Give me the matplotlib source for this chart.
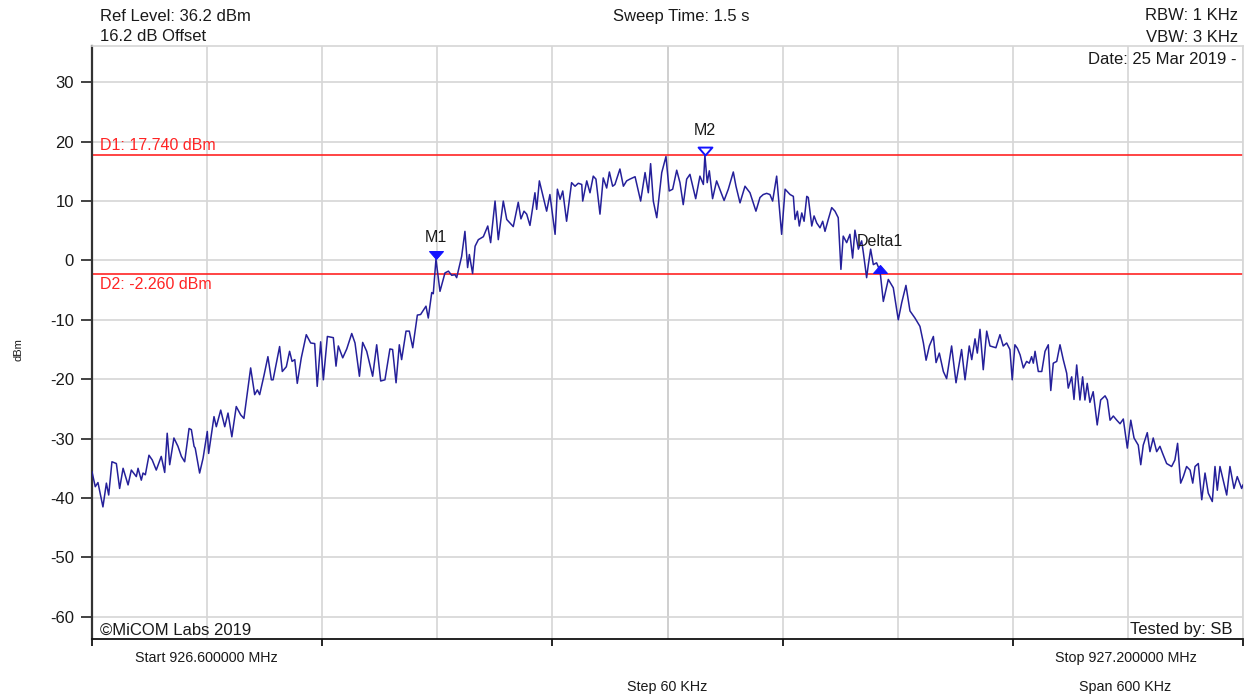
import numpy as np
import matplotlib.pyplot as plt
from matplotlib.path import Path

plt.rcParams['font.family'] = ['Liberation Sans', 'DejaVu Sans']
plt.rcParams['axes.unicode_minus'] = False

# sweep settings
start_mhz = 926.6
stop_mhz = 927.2
span_khz = 600
ref_level = 36.2
y_bottom = ref_level - 100

# display lines
d1_level = 17.740
d2_level = -2.260

# trace: frequency offset from start (kHz) and level (dBm)
freq_khz = [
    0.0, 1.7, 3.1, 5.7, 7.5, 8.7, 10.4, 12.7, 14.4, 16.2, 18.8, 20.5, 23.1, 24.0,
    25.7, 26.6, 27.8, 29.7, 31.4, 33.5, 36.1, 37.9, 39.2, 40.5, 42.7, 44.8, 46.6,
    48.3, 50.6, 51.8, 53.2, 53.8, 56.1, 57.9, 60.1, 60.8, 63.6, 64.8, 67.1, 69.2,
    70.9, 72.9, 75.2, 77.5, 79.2, 82.7, 84.8, 86.2, 87.4, 89.7, 91.7, 93.5, 94.4,
    97.8, 99.2, 101.3, 103.0, 104.3, 105.7, 107.0, 109.1, 111.7, 114.0, 116.1,
    117.4, 119.2, 120.6, 122.7, 125.8, 127.2, 128.4, 130.7, 132.8, 135.4, 137.1,
    139.4, 141.1, 143.2, 146.3, 148.4, 150.5, 152.7, 155.3, 156.7, 158.5, 160.2,
    161.4, 163.7, 165.4, 167.2, 169.6, 171.3, 174.1, 175.3, 177.1, 177.9, 179.3,
    181.4, 184.0, 185.8, 187.5, 189.2, 190.1, 192.7, 194.4, 195.8, 196.7, 198.4,
    199.7, 201.4, 204.0, 206.3, 207.8, 210.1, 211.8, 214.4, 216.2, 217.9, 219.6,
    222.2, 223.6, 225.2, 226.6, 228.3, 230.9, 231.8, 233.2, 234.9, 237.0, 238.7,
    241.4, 242.6, 244.0, 245.4, 247.4, 250.0, 251.8, 253.5, 255.3, 255.8, 257.9,
    259.6, 261.3, 262.7, 264.8, 266.5, 268.3, 269.7, 271.4, 272.6, 275.2, 277.0,
    278.7, 280.4, 283.1, 286.0, 288.3, 290.0, 291.2, 292.6, 294.4, 297.0, 299.2,
    300.9, 302.7, 304.8, 306.5, 308.2, 310.0, 311.7, 314.7, 316.9, 318.7, 319.5,
    320.7, 321.8, 323.5, 325.6, 327.0, 329.5, 331.7, 334.3, 335.7, 337.8, 340.4,
    343.0, 346.1, 348.2, 349.9, 351.7, 353.4, 354.8, 356.9, 359.5, 361.3, 363.9,
    365.6, 366.5, 367.7, 368.7, 370.0, 371.2, 372.6, 373.4, 375.2, 376.4, 377.8,
    379.5, 380.9, 382.1, 383.8, 385.6, 387.3, 389.0, 390.4, 391.6, 393.4, 395.1,
    396.5, 397.7, 399.5, 401.2, 402.1, 403.8, 404.7, 405.9, 407.3, 409.0, 410.8,
    412.5, 415.1, 417.7, 420.3, 422.1, 424.3, 426.4, 429.0, 431.6, 433.4, 434.8,
    436.5, 438.6, 440.0, 441.7, 443.8, 445.5, 448.1, 450.4, 453.3, 455.1, 457.3,
    458.6, 460.3, 461.5, 462.9, 464.6, 466.4, 468.1, 471.2, 473.3, 475.0, 476.8,
    478.5, 479.7, 481.1, 482.4, 483.8, 485.5, 487.2, 488.6, 489.8, 490.7, 491.6,
    493.3, 495.1, 496.8, 498.5, 499.8, 501.1, 502.9, 504.6, 506.3, 508.1, 508.9,
    510.7, 511.9, 513.3, 515.0, 516.4, 517.6, 518.8, 520.2, 521.9, 524.0, 525.8,
    528.1, 529.3, 530.7, 532.4, 534.2, 535.9, 537.6, 539.7, 541.5, 543.2, 545.4,
    546.7, 548.0, 550.1, 551.5, 553.2, 555.0, 556.7, 558.1, 560.2, 562.8, 564.5,
    565.9, 567.5, 568.9, 570.6, 572.4, 573.8, 575.0, 576.7, 578.5, 580.2, 581.9,
    584.0, 585.4, 586.6, 588.0, 589.7, 591.5, 593.2, 595.3, 597.0, 599.3, 600.0,
]
level_dbm = [
    -35.6, -38.1, -37.4, -41.5, -37.5, -39.5, -33.9, -34.2, -38.4, -35.0, -37.8,
    -35.3, -36.4, -35.0, -37.0, -35.8, -36.1, -32.8, -33.6, -35.3, -33.0, -35.7,
    -29.1, -34.4, -29.9, -31.3, -33.0, -33.9, -28.3, -28.5, -31.3, -31.6, -35.8,
    -33.3, -28.8, -32.5, -26.3, -28.0, -25.2, -28.0, -25.7, -29.7, -24.6, -26.0,
    -26.6, -18.1, -22.6, -21.8, -22.6, -19.3, -16.2, -20.1, -20.1, -14.5, -18.7,
    -17.9, -15.3, -17.0, -16.7, -20.7, -16.4, -12.5, -13.9, -14.0, -21.2, -13.7,
    -20.1, -12.8, -13.0, -17.8, -14.4, -16.4, -14.9, -12.3, -13.9, -19.5, -13.8,
    -15.3, -19.5, -14.2, -20.3, -20.1, -14.9, -15.0, -20.6, -14.2, -16.7, -11.9,
    -11.9, -14.7, -9.2, -9.1, -7.7, -9.7, -5.4, -5.6, 0.2, -5.2, -2.1, -1.8,
    -2.5, -2.4, -2.9, 0.7, 4.9, -1.2, 1.0, -2.2, 2.4, 3.5, 4.0, 5.8, 3.0, 10.0,
    3.5, 10.0, 6.9, 6.3, 5.7, 9.8, 7.0, 8.3, 7.8, 5.9, 11.4, 8.6, 13.4, 11.1,
    8.3, 11.1, 4.4, 12.0, 10.3, 11.7, 6.6, 13.1, 12.5, 13.0, 12.8, 10.0, 13.4,
    11.4, 14.2, 13.7, 7.8, 13.9, 12.2, 14.9, 12.5, 12.8, 15.4, 12.5, 13.4, 13.7,
    14.1, 10.0, 14.8, 11.4, 16.3, 10.0, 7.2, 14.8, 17.5, 11.7, 12.0, 15.2, 13.1,
    9.4, 13.7, 14.5, 10.4, 14.2, 12.8, 17.74, 13.1, 15.1, 10.4, 13.4, 12.2, 10.1,
    12.0, 14.9, 12.5, 9.7, 12.5, 11.4, 8.3, 10.6, 11.1, 11.3, 11.1, 10.0, 14.2,
    4.4, 12.0, 11.1, 10.8, 6.9, 8.3, 5.8, 8.0, 6.6, 10.8, 10.6, 5.8, 7.5, 6.3,
    5.5, 6.6, 4.9, 6.9, 8.9, 8.3, 7.2, -1.5, 4.1, 3.0, 4.4, 0.4, 5.1, 1.9, 3.3,
    1.3, -2.9, -0.7, 1.9, -0.7, -0.4, -1.8, -6.9, -3.2, -4.6, -10.0, -7.1, -4.2,
    -8.5, -9.7, -11.1, -13.9, -16.8, -14.4, -12.8, -17.2, -15.6, -18.7, -19.9,
    -14.4, -20.6, -15.0, -20.1, -14.4, -16.7, -13.2, -15.6, -11.6, -18.4, -11.9,
    -14.4, -14.7, -12.5, -14.4, -13.9, -15.0, -20.1, -14.2, -14.8, -15.9, -18.1,
    -17.0, -17.3, -16.2, -17.3, -15.3, -18.7, -18.7, -15.3, -14.2, -21.9, -17.3,
    -17.0, -14.2, -16.7, -19.0, -21.5, -19.6, -23.4, -17.6, -23.5, -19.6, -23.5,
    -20.7, -23.9, -22.1, -27.7, -23.5, -22.8, -23.5, -26.9, -26.2, -26.9, -27.5,
    -26.7, -31.6, -26.9, -29.9, -31.1, -34.4, -31.1, -29.0, -32.2, -29.9, -32.2,
    -31.3, -32.5, -34.2, -34.7, -33.6, -30.8, -37.5, -36.4, -34.7, -35.3, -37.5,
    -34.7, -34.2, -40.3, -35.8, -39.2, -40.6, -34.7, -38.7, -34.7, -37.0, -39.5,
    -34.7, -38.4, -36.4, -38.4, -37.8,
]

# markers: (kHz offset, dBm)
marker_names = ['M1', 'M2', 'Delta1']
marker_khz = [179.3, 319.5, 410.6]
marker_dbm = [0.2, 17.74, -0.7]

y_ticks = [-60, -50, -40, -30, -20, -10, 0, 10, 20, 30]

trace_color = '#25209a'
red = '#ff2424'
mk_blue = '#1414ff'
grid_gray = '#d6d6d6'

W, H = 1246, 696
fig = plt.figure(figsize=(W / 100, H / 100), dpi=100)
ax = fig.add_axes([92 / W, 1 - 639.3 / H, 1151 / W, 593.8 / H])

ax.set_xlim(0, span_khz)
ax.set_ylim(y_bottom, ref_level)

# grid: 10 divisions across, 10 dB steps down
ax.set_xticks(np.arange(0, span_khz + 1, 120))
ax.set_xticks(np.arange(60, span_khz, 120), minor=True)
ax.set_xticklabels([])
ax.set_yticks(y_ticks)
ax.set_yticklabels([str(t) for t in y_ticks])
ax.tick_params(axis='x', which='major', direction='out', length=5, width=1.2, color='black')
ax.tick_params(axis='x', which='minor', length=0)
ax.tick_params(axis='y', direction='out', length=8, width=1.2, color='#222222',
               labelsize=12, pad=5, labelcolor='#1a1a1a')
ax.grid(True, which='both', axis='x', color=grid_gray, linewidth=1.2, zorder=0)
ax.grid(True, which='major', axis='y', color=grid_gray, linewidth=1.2, zorder=0)
ax.axvline(span_khz / 2, color='#a6a6a6', linewidth=1.2, zorder=0.5)
ax.set_axisbelow(True)

for side in ['top', 'right']:
    ax.spines[side].set_color(grid_gray)
    ax.spines[side].set_linewidth(1.2)
ax.spines['left'].set_color('#333333')
ax.spines['left'].set_linewidth(1.6)
ax.spines['bottom'].set_color('#111111')
ax.spines['bottom'].set_linewidth(1.3)

# display lines
ax.axhline(d1_level, color=red, linewidth=1.2, zorder=2)
ax.axhline(d2_level, color=red, linewidth=1.2, zorder=2)
ax.annotate('D1: %.3f dBm' % d1_level, xy=(0, d1_level), xytext=(5.8, 3.6),
            textcoords='offset points', color=red, fontsize=11.5, va='baseline')
ax.annotate('D2: %.3f dBm' % d2_level, xy=(0, d2_level), xytext=(5.8, -11),
            textcoords='offset points', color=red, fontsize=11.5, va='baseline')

ax.plot(freq_khz, level_dbm, color=trace_color, linewidth=1.1, zorder=3)

# marker triangles drawn with the tip on the marker point
tri_down = Path([(-0.875, 1), (0.875, 1), (0, 0), (-0.875, 1)], closed=True)
tri_up = Path([(-0.875, -1), (0.875, -1), (0, 0), (-0.875, -1)], closed=True)

ax.plot(marker_khz[0], marker_dbm[0], marker=tri_down, markersize=11.4,
        color=mk_blue, markeredgewidth=0.8, zorder=4)
ax.plot(marker_khz[1], marker_dbm[1], marker=tri_down, markersize=11.4,
        markerfacecolor='white', markeredgecolor=mk_blue, markeredgewidth=1.4, zorder=4)
ax.plot(marker_khz[2], marker_dbm[2], marker=tri_up, markersize=11.4,
        color=mk_blue, markeredgewidth=0.8, zorder=4)

label_offsets = [12.5, 14.5, 13.2]
for name, fx, lv, off in zip(marker_names, marker_khz, marker_dbm, label_offsets):
    ax.annotate(name, xy=(fx, lv), xytext=(0, off), textcoords='offset points',
                ha='center', va='baseline', fontsize=11.5, color='#1a1a1a', zorder=5)


def put(x, y, s, ha='left', size=12, **kw):
    fig.text(x / W, 1 - y / H, s, ha=ha, va='baseline', fontsize=size,
             color='#1a1a1a', **kw)


put(100, 21, 'Ref Level: %.1f dBm' % ref_level)
put(100, 41, '16.2 dB Offset')
put(681, 21, 'Sweep Time: 1.5 s', ha='center')
put(1238, 20, 'RBW: 1 KHz', ha='right')
put(1238, 41.5, 'VBW: 3 KHz', ha='right')
put(1236, 64, 'Date: 25 Mar 2019 -', ha='right')
put(100, 635, '\u00a9MiCOM Labs 2019')
put(1233, 634, 'Tested by: SB', ha='right')
put(206, 662, 'Start %.6f MHz' % start_mhz, ha='center', size=10.3)
put(1126, 662, 'Stop %.6f MHz' % stop_mhz, ha='center', size=10.3)
put(667, 691, 'Step 60 KHz', ha='center', size=10.3)
put(1125, 691, 'Span %d KHz' % span_khz, ha='center', size=10.3)
fig.text(18 / W, 1 - 350 / H, 'dBm', rotation=90, ha='center', va='center',
         fontsize=8, color='#1a1a1a')

fig.savefig('out.png', dpi=100, facecolor='white')
